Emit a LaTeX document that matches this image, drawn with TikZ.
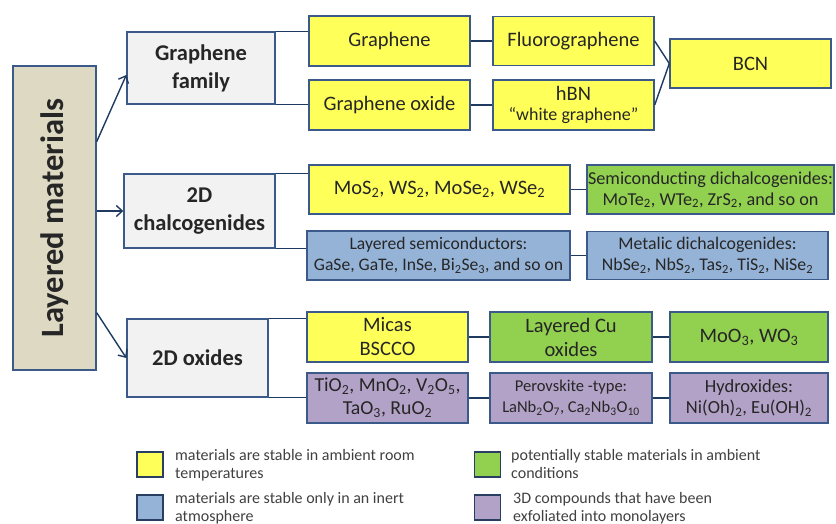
\documentclass[tikz,border=0pt]{standalone}
\usepackage{fontspec}
\setmainfont{Carlito}
\usetikzlibrary{calc,arrows.meta}

\definecolor{boxline}{HTML}{3B5A8A}
\definecolor{linkc}{HTML}{1F3A60}
\definecolor{yel}{HTML}{FFFF5A}
\definecolor{grn}{HTML}{92D050}
\definecolor{blu}{HTML}{95B3D7}
\definecolor{pur}{HTML}{B3A2C7}
\definecolor{tanbox}{HTML}{DDD9C3}
\definecolor{famgrey}{HTML}{F2F2F2}
\newcommand{\sbs}[1]{\textsubscript{#1}}

\tikzset{
  box/.style={draw=boxline, line width=1.4pt, inner sep=0pt, align=center,
    text=black!85, font=\fontsize{20.5}{24}\selectfont},
  famb/.style={box, fill=famgrey, font=\bfseries\fontsize{22.5}{28}\selectfont},
  ybox/.style={box, fill=yel},
  gbox/.style={box, fill=grn},
  bbox/.style={box, fill=blu},
  pbox/.style={box, fill=pur},
  link/.style={draw=linkc, line width=1.4pt},
  arr/.style={link, -{Straight Barb[length=6pt,width=11pt,line width=1.4pt]}},
  legsq/.style={draw=boxline!70!black, line width=1.6pt, minimum width=26pt, minimum height=25pt, inner sep=0pt},
  legtxt/.style={anchor=north west, align=left, inner sep=0pt, text=black!75, font=\fontsize{16}{18}\selectfont}
}

\begin{document}
\begin{tikzpicture}[x=1pt, y=-1pt]
        \useasboundingbox (0,0) rectangle (836,524);

        \node[box, fill=tanbox, minimum width=83pt, minimum height=304pt] (main) at (54.5,218)
          {\rotatebox{90}{\bfseries\fontsize{32.5}{34}\selectfont Layered materials}};

        % families
        \node[famb, minimum width=148pt, minimum height=72pt] (fam) at (201,68) {Graphene\\family};
        \node[famb, minimum width=151pt, minimum height=74pt] (chalc) at (199.5,211) {2D\\chalcogenides};
        \node[famb, minimum width=141pt, minimum height=78pt] (oxi) at (197.5,358) {2D oxides};

        \draw[arr] ($(main.north east)!0.25!(main.south east)$) -- ([yshift=-7pt]fam.west);
        \draw[arr] (main.east |- chalc.west) -- (chalc.west);
        \draw[arr] ($(main.north east)!0.81!(main.south east)$) -- (oxi.west);

        % graphene family
        \node[ybox, minimum width=161pt, minimum height=50pt] (graphene) at (389.5,41) {Graphene};
        \node[ybox, minimum width=161pt, minimum height=49pt] (fluoro) at (573.5,41) {Fluorographene};
        \node[ybox, minimum width=161pt, minimum height=50pt] (goxide) at (389.5,105) {Graphene oxide};
        \node[ybox, minimum width=161pt, minimum height=50pt] (hbn) at (573.5,105)
          {hBN\\[-4pt]{\fontsize{18}{20}\selectfont ``white graphene''}};
        \node[ybox, minimum width=161pt, minimum height=49pt] (bcn) at (750.5,63.5) {BCN};

        \draw[link] (fam.north east) -- (fam.north east -| graphene.west);
        \draw[link] (fam.south east) -- (fam.south east -| goxide.west);
        \draw[link] (graphene) -- (fluoro);
        \draw[link] (goxide) -- (hbn);
        \draw[link] (fluoro.east) -- (bcn.west);
        \draw[link] (hbn.east) -- (bcn.west);

        % chalcogenides
        \node[ybox, minimum width=261pt, minimum height=49pt] (mos) at (439.5,189.5)
          {MoS\sbs{2}, WS\sbs{2}, MoSe\sbs{2}, WSe\sbs{2}};
        \node[bbox, minimum width=263pt, minimum height=49pt, font=\fontsize{17.6}{21}\selectfont] (lsemi) at (438.5,255.5)
          {Layered semiconductors:\\GaSe, GaTe, InSe, Bi\sbs{2}Se\sbs{3}, and so on};
        \node[gbox, minimum width=247pt, minimum height=49pt, font=\fontsize{18.2}{21}\selectfont] (semid) at (710.5,189.5)
          {Semiconducting dichalcogenides:\\MoTe\sbs{2}, WTe\sbs{2}, ZrS\sbs{2}, and so on};
        \node[bbox, minimum width=241pt, minimum height=48pt, font=\fontsize{17.8}{21}\selectfont] (metd) at (707.5,255.5)
          {Metalic dichalcogenides:\\NbSe\sbs{2}, NbS\sbs{2}, Tas\sbs{2}, TiS\sbs{2}, NiSe\sbs{2}};

        \draw[link] (chalc.north east) -- (chalc.north east -| mos.west);
        \draw[link] (chalc.south east) -- (chalc.south east -| lsemi.west);
        \draw[link] (mos) -- (semid);
        \draw[link] (lsemi) -- (metd);

        % oxides
        \node[ybox, minimum width=161pt, minimum height=50pt] (micas) at (387.5,337) {Micas\\BSCCO};
        \node[gbox, minimum width=162pt, minimum height=50pt] (cuox) at (571,337) {Layered Cu\\oxides};
        \node[gbox, minimum width=158pt, minimum height=50pt] (moo) at (749,337) {MoO\sbs{3}, WO\sbs{3}};
        \node[pbox, minimum width=161pt, minimum height=50pt, font=\fontsize{19.8}{23}\selectfont] (tio) at (387.5,398)
          {TiO\sbs{2}, MnO\sbs{2}, V\sbs{2}O\sbs{5},\\TaO\sbs{3}, RuO\sbs{2}};
        \node[pbox, minimum width=162pt, minimum height=50pt, font=\fontsize{16.5}{21}\selectfont] (perov) at (571,398)
          {Perovskite -type:\\LaNb\sbs{2}O\sbs{7}, Ca\sbs{2}Nb\sbs{3}O\sbs{10}};
        \node[pbox, minimum width=158pt, minimum height=50pt, font=\fontsize{18.5}{21}\selectfont] (hydr) at (749,398)
          {Hydroxides:\\Ni(Oh)\sbs{2}, Eu(OH)\sbs{2}};

        \draw[link] (oxi.north east) -- (oxi.north east -| micas.west);
        \draw[link] (oxi.south east) -- (oxi.south east -| tio.west);
        \draw[link] (micas) -- (cuox);
        \draw[link] (cuox) -- (moo);
        \draw[link] (tio) -- (perov);
        \draw[link] (perov) -- (hydr);

        % legend
        \node[legsq, fill=yel] (ly) at (150,464.5) {};
        \node[legtxt] (lyt) at (175,449) {materials are stable in ambient room\\temperatures};
        \node[legsq, fill=blu] (lb) at (150,507.5) {};
        \node[legtxt] (lbt) at (175,492) {materials are stable only in an inert\\atmosphere};
        \node[legsq, fill=grn] (lg) at (487.5,464.5) {};
        \node[legtxt] (lgt) at (511,449) {potentially stable materials in ambient\\conditions};
        \node[legsq, fill=pur] (lp) at (487.5,507.5) {};
        \node[legtxt] (lpt) at (513,492) {3D compounds that have been\\exfoliated into monolayers};
      \end{tikzpicture}
\end{document}
